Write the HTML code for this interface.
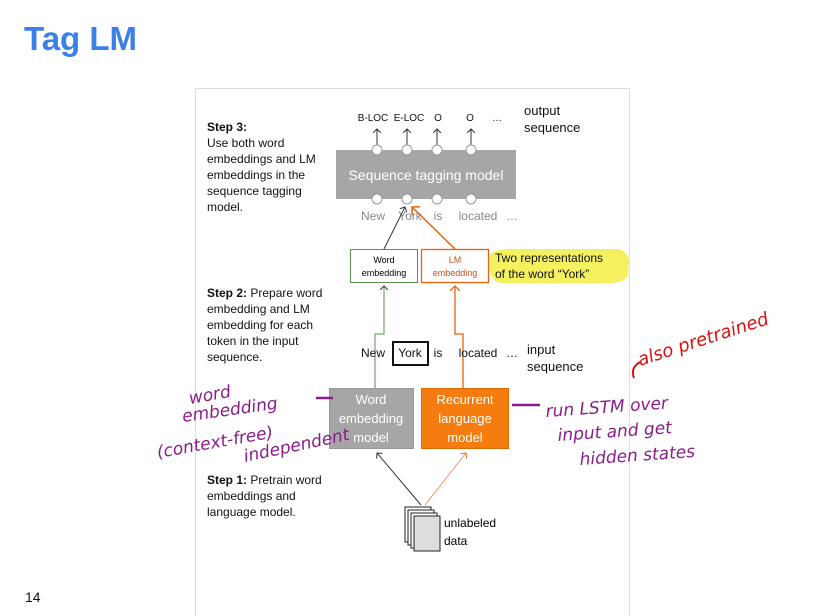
<!DOCTYPE html>
<html><head><meta charset="utf-8"><style>
body{margin:0;background:#fff;}
svg{display:block;font-family:"Liberation Sans",Calibri,sans-serif;}
.h{font-family:"DejaVu Sans",sans-serif;font-style:italic;fill:#8a1c8a;font-size:17px;}
</style></head><body>
<svg width="826" height="616" viewBox="0 0 826 616">
<text x="24" y="50" font-size="33" font-weight="bold" fill="#3b7fe8">Tag LM</text>
<rect x="195.5" y="88.5" width="434" height="530" fill="none" stroke="#ddd"/>
<defs><marker id="a" markerWidth="8" markerHeight="8" refX="4" refY="4" orient="auto"><path d="M0,0L4,4L0,8" fill="none" stroke="#333"/></marker>
<marker id="o" markerWidth="8" markerHeight="8" refX="4" refY="4" orient="auto"><path d="M0,0L4,4L0,8" fill="none" stroke="#e8620c"/></marker></defs>
<g font-size="12" fill="#111">
<text x="207" y="131"><tspan font-weight="bold">Step 3:</tspan></text>
<text x="207" y="147">Use both word</text><text x="207" y="163">embeddings and LM</text><text x="207" y="179">embeddings in the</text><text x="207" y="195">sequence tagging</text><text x="207" y="211">model.</text>
<text x="207" y="297"><tspan font-weight="bold">Step 2:</tspan> Prepare word</text><text x="207" y="313">embedding and LM</text><text x="207" y="329">embedding for each</text><text x="207" y="345">token in the input</text><text x="207" y="361">sequence.</text>
<text x="207" y="484"><tspan font-weight="bold">Step 1:</tspan> Pretrain word</text><text x="207" y="500">embeddings and</text><text x="207" y="516">language model.</text>
<text x="524" y="115" font-size="13">output</text><text x="524" y="132" font-size="13">sequence</text>
<text x="527" y="354" font-size="13">input</text><text x="527" y="371" font-size="13">sequence</text>
</g>
<g font-size="10" fill="#111" text-anchor="middle">
<text x="373" y="121">B-LOC</text><text x="409" y="121">E-LOC</text><text x="438" y="121">O</text><text x="470" y="121">O</text><text x="497" y="121">…</text>
</g>
<g stroke="#333" marker-end="url(#a)"><line x1="377" y1="146" x2="377" y2="129"/><line x1="407" y1="146" x2="407" y2="129"/><line x1="437" y1="146" x2="437" y2="129"/><line x1="471" y1="146" x2="471" y2="129"/></g>
<rect x="336" y="150" width="180" height="49" fill="#a6a6a6"/>
<text x="426" y="180" font-size="14" fill="#fff" text-anchor="middle">Sequence tagging model</text>
<g fill="#fff" stroke="#999"><circle cx="377" cy="150" r="5"/><circle cx="407" cy="150" r="5"/><circle cx="437" cy="150" r="5"/><circle cx="471" cy="150" r="5"/>
<circle cx="377" cy="199" r="5"/><circle cx="407" cy="199" r="5"/><circle cx="437" cy="199" r="5"/><circle cx="471" cy="199" r="5"/></g>
<g font-size="12" fill="#888" text-anchor="middle"><text x="373" y="220">New</text><text x="410" y="220">York</text><text x="438" y="220">is</text><text x="478" y="220">located</text><text x="512" y="220">…</text></g>
<line x1="384" y1="249" x2="405" y2="207" stroke="#333" marker-end="url(#a)"/>
<line x1="455" y1="249" x2="412" y2="207" stroke="#e8620c" stroke-width="1.5" marker-end="url(#o)"/>
<path d="M490 258 Q488 248 520 249 L620 249 Q632 256 628 266 Q632 282 612 283 L500 283 Q488 280 490 258Z" fill="#f4f060"/>
<text x="495" y="262" font-size="12" fill="#111">Two representations</text><text x="495" y="278" font-size="12" fill="#111">of the word “York”</text>
<rect x="350.5" y="249.5" width="67" height="33" fill="#fff" stroke="#5a9050"/>
<text x="384" y="263" font-size="9" text-anchor="middle">Word</text><text x="384" y="276" font-size="9" text-anchor="middle">embedding</text>
<rect x="421.5" y="249.5" width="67" height="33" fill="#fff" stroke="#e8620c" stroke-width="1.3"/>
<text x="455" y="263" font-size="9" fill="#c0501a" text-anchor="middle">LM</text><text x="455" y="276" font-size="9" fill="#c0501a" text-anchor="middle">embedding</text>
<path d="M375 388 V334 H384 V286" fill="none" stroke="#5a9050" marker-end="url(#a)"/>
<path d="M463 388 V334 H455 V286" fill="none" stroke="#e8620c" stroke-width="1.3" marker-end="url(#o)"/>
<g font-size="12" fill="#111" text-anchor="middle"><text x="373" y="357">New</text><text x="410" y="357">York</text><text x="438" y="357">is</text><text x="478" y="357">located</text><text x="512" y="357">…</text></g>
<rect x="393" y="342" width="35" height="23" fill="none" stroke="#111" stroke-width="2"/>
<rect x="329.5" y="388.5" width="84" height="60" fill="#a6a6a6" stroke="#999"/>
<g font-size="13" fill="#fff" text-anchor="middle"><text x="371" y="404">Word</text><text x="371" y="423">embedding</text><text x="371" y="442">model</text></g>
<rect x="421.5" y="388.5" width="87" height="60" fill="#f57c0f" stroke="#e06a00"/>
<g font-size="13" fill="#fff" text-anchor="middle"><text x="465" y="404">Recurrent</text><text x="465" y="423">language</text><text x="465" y="442">model</text></g>
<line x1="421" y1="505" x2="377" y2="453" stroke="#333" marker-end="url(#a)"/>
<line x1="425" y1="505" x2="466" y2="453" stroke="#f09060" marker-end="url(#o)"/>
<g fill="#fff" stroke="#222"><rect x="405" y="507" width="26" height="35"/><rect x="408" y="510" width="26" height="35"/><rect x="411" y="513" width="26" height="35"/><rect x="414" y="516" width="26" height="35" fill="#ddd"/></g>
<text x="444" y="527" font-size="12">unlabeled</text><text x="444" y="545" font-size="12">data</text>
<text class="h" x="190" y="404" transform="rotate(-10 190 404)">word</text>
<text class="h" x="183" y="422" transform="rotate(-8 183 422)">embedding</text>
<text class="h" x="158" y="458" transform="rotate(-10 158 458)">(context-free)</text>
<text class="h" x="245" y="462" transform="rotate(-12 245 462)">independent</text>
<line x1="316" y1="398" x2="333" y2="398" stroke="#8a1c8a" stroke-width="2.5"/>
<line x1="512" y1="405" x2="540" y2="405" stroke="#8a1c8a" stroke-width="2.5"/>
<text class="h" x="546" y="417" font-size="18" transform="rotate(-4 546 417)">run LSTM over</text>
<text class="h" x="558" y="441" font-size="18" transform="rotate(-4 558 441)">input and get</text>
<text class="h" x="580" y="465" font-size="18" transform="rotate(-4 580 465)">hidden states</text>
<path d="M634 378 Q630 368 640 362" fill="none" stroke="#e01010" stroke-width="2"/>
<text x="640" y="366" font-family="DejaVu Sans,sans-serif" font-style="italic" font-size="18" fill="#e01010" transform="rotate(-18 640 366)">also pretrained</text>
<text x="25" y="602" font-size="14" fill="#111">14</text>
</svg>
</body></html>
